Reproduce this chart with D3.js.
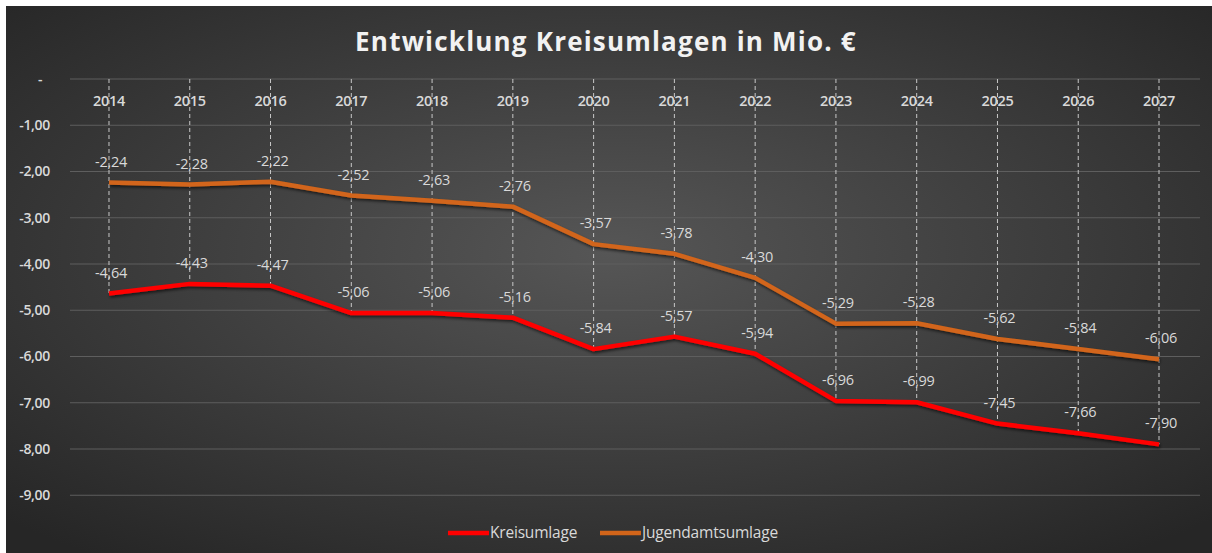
<!DOCTYPE html>
<html><head><meta charset="utf-8">
<script src="https://cdn.jsdelivr.net/npm/d3@7"></script>
<style>html,body{margin:0;padding:0;background:#fff;}svg{display:block;}</style>
</head><body>
<svg id="c" width="1212" height="553"></svg>
<script>
const years = ["2014","2015","2016","2017","2018","2019","2020","2021","2022","2023","2024","2025","2026","2027"];
const kreisumlage = [-4.64,-4.43,-4.47,-5.06,-5.06,-5.16,-5.84,-5.57,-5.94,-6.96,-6.99,-7.45,-7.66,-7.90];
const jugendamtsumlage = [-2.24,-2.28,-2.22,-2.52,-2.63,-2.76,-3.57,-3.78,-4.30,-5.29,-5.28,-5.62,-5.84,-6.06];
const yTicks = [0,-1,-2,-3,-4,-5,-6,-7,-8,-9];
const seriesNames = ["Kreisumlage","Jugendamtsumlage"];
const seriesColors = ["#ff0000","#d2651a"];
const title = "Entwicklung Kreisumlagen in Mio. €";

const W=1212,H=553;
const svg=d3.select("#c");
const defs=svg.append("defs");
const rg=defs.append("radialGradient").attr("id","bg").attr("cx","50%").attr("cy","45%").attr("r","70%");
rg.append("stop").attr("offset","0%").attr("stop-color","#565656");
rg.append("stop").attr("offset","100%").attr("stop-color","#262626");
const f=defs.append("filter").attr("id","sh").attr("x","-5%").attr("y","-20%").attr("width","110%").attr("height","140%");
f.append("feDropShadow").attr("dx",1).attr("dy",2).attr("stdDeviation",1.5).attr("flood-color","#000").attr("flood-opacity",0.6);

svg.append("rect").attr("x",6).attr("y",6).attr("width",W-6).attr("height",H-6).attr("fill","url(#bg)");

const x=d3.scaleBand().domain(years).range([68.6,1199.4]);
const y=d3.scaleLinear().domain([-10,0]).range([541.5,79]);
const cx=d=>x(d)+x.bandwidth()/2;
const FONT="'Open Sans', Lato, sans-serif";

// gridlines
svg.append("g").selectAll("line").data(yTicks).join("line")
 .attr("x1",70).attr("x2",1200).attr("y1",d=>y(d)).attr("y2",d=>y(d))
 .attr("stroke","#5e5e5e").attr("stroke-width",1);

// y axis labels
const fmt=v=> v===0?"-":d3.format(".2f")(v).replace("−","-").replace(".",",");
svg.append("g").selectAll("text").data(yTicks).join("text")
 .attr("x",d=>d===0?40:50).attr("y",d=>y(d)).attr("dy","0.35em")
 .attr("text-anchor",d=>d===0?"middle":"end")
 .attr("font-family",FONT).attr("font-size",14).attr("font-weight",600)
 .attr("letter-spacing","-0.3")
 .attr("fill","#d9d9d9").text(fmt);

// drop lines
svg.append("g").selectAll("line").data(years).join("line")
 .attr("x1",cx).attr("x2",cx).attr("y1",y(0))
 .attr("y2",(d,i)=>y(Math.min(kreisumlage[i],jugendamtsumlage[i])))
 .attr("stroke","#c8c8c8").attr("stroke-width",1).attr("stroke-dasharray","4,3");

// x labels
svg.append("g").selectAll("text").data(years).join("text")
 .attr("x",cx).attr("y",101).attr("dy","0.35em").attr("text-anchor","middle")
 .attr("font-family",FONT).attr("font-size",14.5).attr("font-weight",600)
 .attr("letter-spacing","-0.3")
 .attr("fill","#d9d9d9").text(d=>d);

// lines
const series=[kreisumlage,jugendamtsumlage];
const line=d3.line().x((d,i)=>cx(years[i])).y(d=>y(d));
series.forEach((s,k)=>{
 svg.append("path").datum(s).attr("d",line).attr("fill","none")
  .attr("stroke",seriesColors[k]).attr("stroke-width",4.5).attr("stroke-linejoin","round")
  .attr("filter","url(#sh)");
});
// data labels
const lf=v=>d3.format(".2f")(v).replace("−","-").replace(".",",");
series.forEach((s,k)=>{
 svg.append("g").selectAll("text").data(s).join("text")
  .attr("x",(d,i)=>cx(years[i])+2).attr("y",d=>y(d)-21).attr("dy","0.35em")
  .attr("text-anchor","middle")
  .attr("font-family",FONT).attr("font-size",14.5)
  .attr("letter-spacing","-0.3")
  .attr("fill","#d9d9d9").text(lf);
});

// title
svg.append("text").attr("x",606).attr("y",42).attr("dy","0.35em").attr("text-anchor","middle")
 .attr("font-family",FONT).attr("font-size",26).attr("font-weight","bold")
 .attr("fill","#f2f2f2").attr("letter-spacing","1.2").text(title);

// legend
const lg=svg.append("g");
const legX=[448,600];
seriesNames.forEach((n,k)=>{
 lg.append("line").attr("x1",legX[k]).attr("x2",legX[k]+41).attr("y1",533).attr("y2",533)
  .attr("stroke",seriesColors[k]).attr("stroke-width",4.5);
 lg.append("text").attr("x",legX[k]+42).attr("y",533).attr("dy","0.35em")
  .attr("font-family",FONT).attr("font-size",15.5).attr("letter-spacing","-0.2")
  .attr("fill","#d9d9d9").text(n);
});
</script>
</body></html>
